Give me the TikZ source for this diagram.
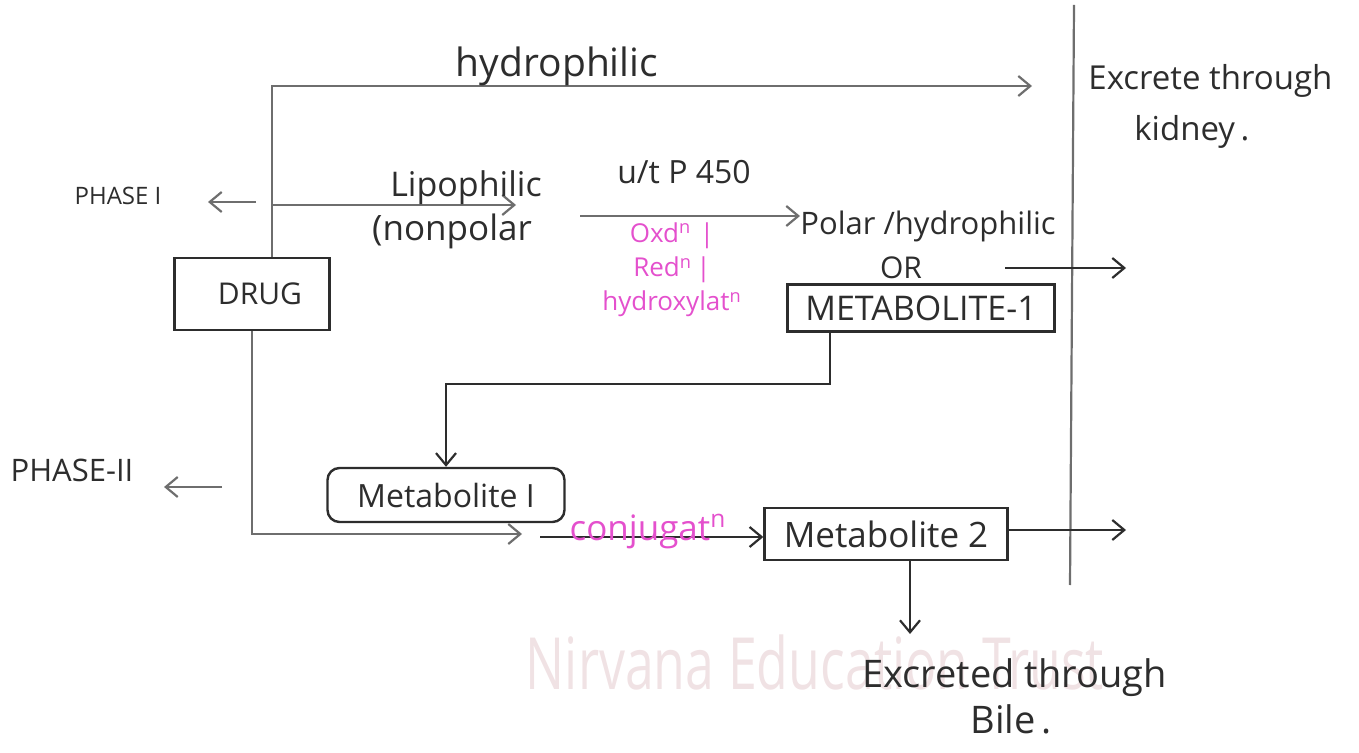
\documentclass[tikz,border=0pt]{standalone}
\usepackage{fontspec}
\setmainfont{Open Sans}
\usetikzlibrary{arrows.meta,positioning}
\definecolor{pinkc}{RGB}{228,80,205}
\definecolor{ink}{RGB}{45,45,45}
\definecolor{pencil}{RGB}{110,110,110}
\definecolor{wmark}{RGB}{240,226,228}
\tikzset{
  fs/.style={font=\fontsize{#1}{#1}\selectfont},
  lbl/.style={inner sep=0pt, text=ink},
  boxnode/.style={draw=ink, line width=1.2pt, inner sep=0pt, text=ink},
  conn/.style={draw=ink, line width=1.1pt, -{Straight Barb[length=6pt,width=10pt,line width=1.1pt]}},
  pconn/.style={conn, draw=pencil},
  plain/.style={draw=pencil, line width=1.1pt},
}
\begin{document}
\begin{tikzpicture}[x=0.5pt,y=-0.5pt]
\useasboundingbox (0,0) rectangle (1359,753);
% watermark
\node[lbl, text=wmark, fs=36, xscale=0.72] (wm) at (815,662) {Nirvana Education Trust};
% kidney boundary
\coordinate (vtop) at (1074,5);
\coordinate (vbot) at (1070,585);
\draw[plain] (vtop) -- (vbot);
\node[lbl, fs=16.5, align=left, anchor=north west] (kid) at (1088,64) {Excrete through\\[9pt]\hspace{23pt}kidney\,.};
% boxes
\node[boxnode, minimum width=77.5pt, minimum height=36pt, fs=15] (drug) at (252,294) {\hspace{8pt}DRUG};
\node[boxnode, minimum width=133.5pt, minimum height=23.5pt, fs=17] (met1) at (921,308) {METABOLITE-1};
\node[boxnode, rounded corners=6pt, minimum width=118.5pt, minimum height=27pt, fs=16] (metI) at (446,495) {Metabolite I};
\node[boxnode, minimum width=121.5pt, minimum height=26pt, fs=17.5] (met2) at (886,534) {Metabolite 2};
% phase labels
\node[lbl, fs=12] (ph1) at (118,196) {PHASE I};
\coordinate (ph1s) at (256,202);
\coordinate (ph1e) at (208,202);
\draw[pconn] (ph1s) -- (ph1e);
\node[lbl, fs=15.5] (ph2) at (72,470) {PHASE-II};
\coordinate (ph2s) at (222,487);
\coordinate (ph2e) at (164,487);
\draw[pconn] (ph2s) -- (ph2e);
% hydrophilic route
\coordinate (hydE) at (1032,86);
\draw[pconn] ([xshift=10pt]drug.north) |- (hydE);
\node[lbl, fs=19.5, anchor=south] (hyd) at (557,86) {hydrophilic};
% lipophilic route
\coordinate (lipS) at (272,205);
\coordinate (lipE) at (516,205);
\draw[pconn] (lipS) -- (lipE);
\node[lbl, fs=17, anchor=south] (lip) at (466,205) {Lipophilic};
\node[lbl, fs=17.5, anchor=north] (nonp) at (452,214) {(nonpolar};
% P450 step
\node[lbl, fs=16] (p450) at (684,172) {u/t P 450};
\node[lbl, fs=15.5, anchor=west] (polar) at (800,226) {Polar /hydrophilic};
\coordinate (p1) at (580,216);
\draw[pconn] (p1) -- (polar.west |- p1);
\node[lbl, fs=13, text=pinkc, align=center] (redox) at (672,270) {Oxd$^{\rm n}$\,\,|\\[3pt]Red$^{\rm n}$\,|\\[3pt]hydroxylat$^{\rm n}$};
\node[lbl, fs=15] (or) at (901,268) {OR};
\coordinate (orS) at (1005,268);
\coordinate (orE) at (1126,268);
\draw[conn] (orS) -- (orE);
% metabolite-1 to metabolite I
\coordinate (m1d) at (830,384);
\draw[conn] (met1.south -| m1d) -- (m1d) -| (metI.north);
% phase II route
\coordinate (c2e) at (522,534);
\draw[pconn] (drug.south) |- (c2e);
\coordinate (c3s) at (540,537);
\draw[conn] (c3s) -- (met2.west |- c3s);
\node[lbl, fs=17.5, text=pinkc, anchor=base] (conj) at (648,540) {conjugat$^{\rm n}$};
% metabolite 2 exits
\coordinate (r2) at (1126,530);
\draw[conn] (met2.east |- r2) -- (r2);
\coordinate (bileA) at (910,634);
\draw[conn] ([xshift=12pt]met2.south) -- (bileA);
\node[lbl, fs=19, anchor=north west, align=left] (bile) at (862,658) {Excreted through\\[4pt]\hspace{54pt}Bile\,.};
\end{tikzpicture}
\end{document}
